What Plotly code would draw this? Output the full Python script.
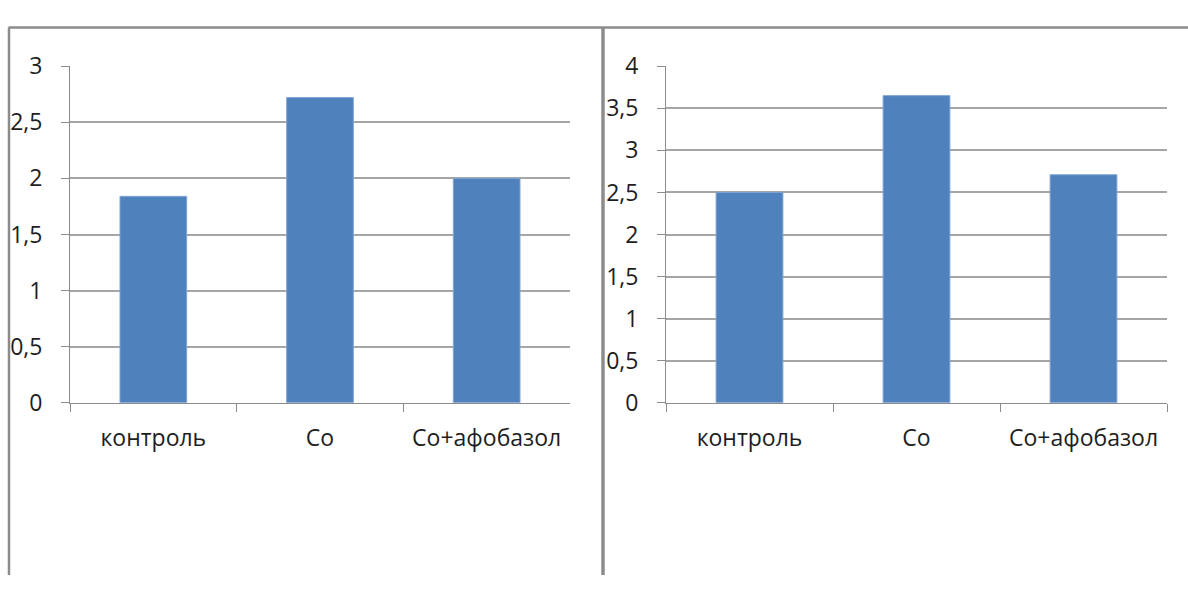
import plotly.graph_objects as go

# Category labels shared by both panels
categories = ["контроль", "Со", "Со+афобазол"]

# Bar heights, left and right panels
left_values = [1.84, 2.72, 2.0]
right_values = [2.5, 3.65, 2.71]

# Y tick values for each panel
left_ticks = [0, 0.5, 1, 1.5, 2, 2.5, 3]
right_ticks = [0, 0.5, 1, 1.5, 2, 2.5, 3, 3.5, 4]

W, H = 1188, 590
BAR = "#4f81bd"
GRID = "#a6a6a6"
AXIS = "#8c8c8c"
FONT = dict(family="Open Sans, Noto Sans, sans-serif", size=23, color="#1e1e1e")


def px(x):
    return x / W


def py(y):
    return 1 - y / H


fig = go.Figure()
fig.add_trace(go.Bar(x=categories, y=left_values, marker=dict(color=BAR, line=dict(color="#7fa3d3", width=1)),
                     width=0.4, xaxis="x", yaxis="y", showlegend=False))
fig.add_trace(go.Bar(x=categories, y=right_values, marker=dict(color=BAR, line=dict(color="#7fa3d3", width=1)),
                     width=0.4, xaxis="x2", yaxis="y2", showlegend=False))

ydom = [py(408), py(52)]

common_x = dict(showgrid=False, showline=True, linecolor=AXIS, linewidth=1,
                ticks="outside", ticklen=8, tickcolor=AXIS, tickson="boundaries",
                tickfont=FONT, ticklabelstandoff=15, fixedrange=True)
common_y = dict(showgrid=True, gridcolor=GRID, gridwidth=1.5, showline=True, linecolor=AXIS,
                linewidth=1, ticks="outside", ticklen=8, tickcolor=AXIS, tickfont=FONT,
                ticklabelstandoff=14, zeroline=False, fixedrange=True)

fig.update_layout(
    width=W, height=H,
    margin=dict(l=0, r=0, t=0, b=0),
    paper_bgcolor="white", plot_bgcolor="white",
    separators=", ",
    bargap=0.6,
    xaxis=dict(domain=[px(70), px(570)], anchor="y", **common_x),
    yaxis=dict(domain=ydom, anchor="x", range=[0, 3], tickvals=left_ticks, **common_y),
    xaxis2=dict(domain=[px(666), px(1167)], anchor="y2", **common_x),
    yaxis2=dict(domain=ydom, anchor="x2", range=[0, 4], tickvals=right_ticks, **common_y),
    shapes=[
        # outer frame: top and left edges
        dict(type="line", xref="paper", yref="paper", x0=px(8.5), x1=1, y0=py(11), y1=py(11),
             line=dict(color="#8c8c8c", width=2.5)),
        dict(type="line", xref="paper", yref="paper", x0=px(9), x1=px(9), y0=py(11), y1=0,
             line=dict(color="#8c8c8c", width=2.5)),
        # divider between the panels
        dict(type="line", xref="paper", yref="paper", x0=px(603), x1=px(603), y0=py(11), y1=0,
             line=dict(color="#8c8c8c", width=3.5)),
    ],
)

fig.write_html("out.html")
